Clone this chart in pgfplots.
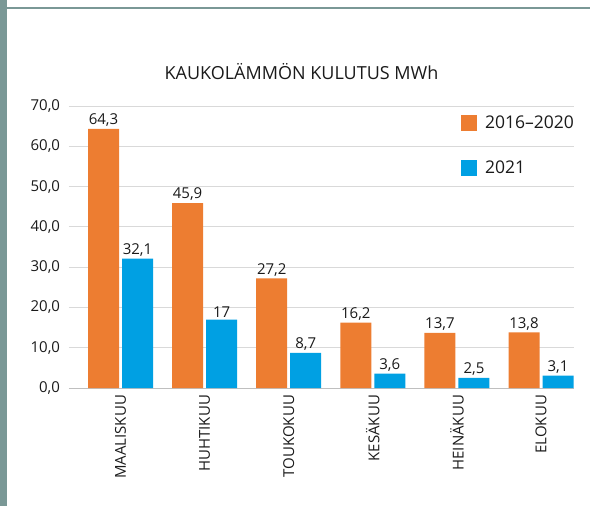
\documentclass[border=0pt]{standalone}
\usepackage{fontspec}
\setmainfont{Open Sans}
\usepackage{pgfplots}
\pgfplotsset{compat=1.18}
\definecolor{framec}{RGB}{122,152,150}
\definecolor{orangeb}{RGB}{237,125,49}
\definecolor{blueb}{RGB}{0,160,227}
\definecolor{gridc}{RGB}{217,217,217}
\definecolor{axisc}{RGB}{191,191,191}
\definecolor{txt}{RGB}{26,26,26}
\begin{document}
\begin{tikzpicture}[x=1pt,y=1pt]
\path[use as bounding box] (0,0) rectangle (590,-506);
\fill[framec] (0,0) rectangle (7,-506);
\fill[framec] (7,-7) rectangle (590,-9);
\node[anchor=base, font=\fontsize{18}{21}\selectfont, text=txt, inner sep=0pt] at (301.5,-79.5) {KAUKOLÄMMÖN KULUTUS MWh};
\begin{axis}[
  at={(69pt,-388pt)}, anchor=south west,
  scale only axis, width=505pt, height=282pt,
  xmin=-0.6124, xmax=5.392, ymin=0, ymax=70,
  ybar=3pt, bar width=31pt,
  axis x line*=bottom, axis y line*=left,
  y axis line style={draw=none},
  x axis line style={draw=axisc, line width=1pt},
  ymajorgrids, grid style={draw=gridc, line width=1pt},
  major tick length=0pt,
  ytick={0,10,...,70},
  xtick={0,1,2,3,4,5},
  xticklabels={MAALISKUU,HUHTIKUU,TOUKOKUU,KESÄKUU,HEINÄKUU,ELOKUU},
  x tick label style={rotate=90, anchor=east, inner sep=0pt, outer xsep=7pt, outer ysep=0pt, font=\fontsize{15}{18}\selectfont, text=txt},
  y tick label style={anchor=east, inner sep=0pt, outer xsep=9pt, outer ysep=0pt, font=\fontsize{15}{18}\selectfont, text=txt,
    /pgf/number format/.cd, fixed, fixed zerofill, precision=1, use comma, assume math mode=true},
  /pgf/number format/use comma,
  /pgf/number format/assume math mode=true,
  nodes near coords,
  every node near coord/.append style={font=\fontsize{15}{18}\selectfont, text=txt, inner sep=2pt},
  legend style={at={(0.776,0.968)}, anchor=north west, draw=none, fill=none, inner sep=0pt,
    font=\fontsize{17.5}{21}\selectfont, text=txt, row sep=29pt, column sep=8pt,
    nodes={inner sep=0pt}},
  legend cell align=left,
]
\addplot[fill=orangeb, draw=none, legend image code/.code={\fill[orangeb] (0pt,-8pt) rectangle (16pt,8pt);}]
  coordinates {(0,64.3) (1,45.9) (2,27.2) (3,16.2) (4,13.7) (5,13.8)};
\addplot[fill=blueb, draw=none, legend image code/.code={\fill[blueb] (0pt,-8pt) rectangle (16pt,8pt);}]
  coordinates {(0,32.1) (1,17) (2,8.7) (3,3.6) (4,2.5) (5,3.1)};
\legend{2016–2020,2021}
\end{axis}
\end{tikzpicture}
\end{document}
